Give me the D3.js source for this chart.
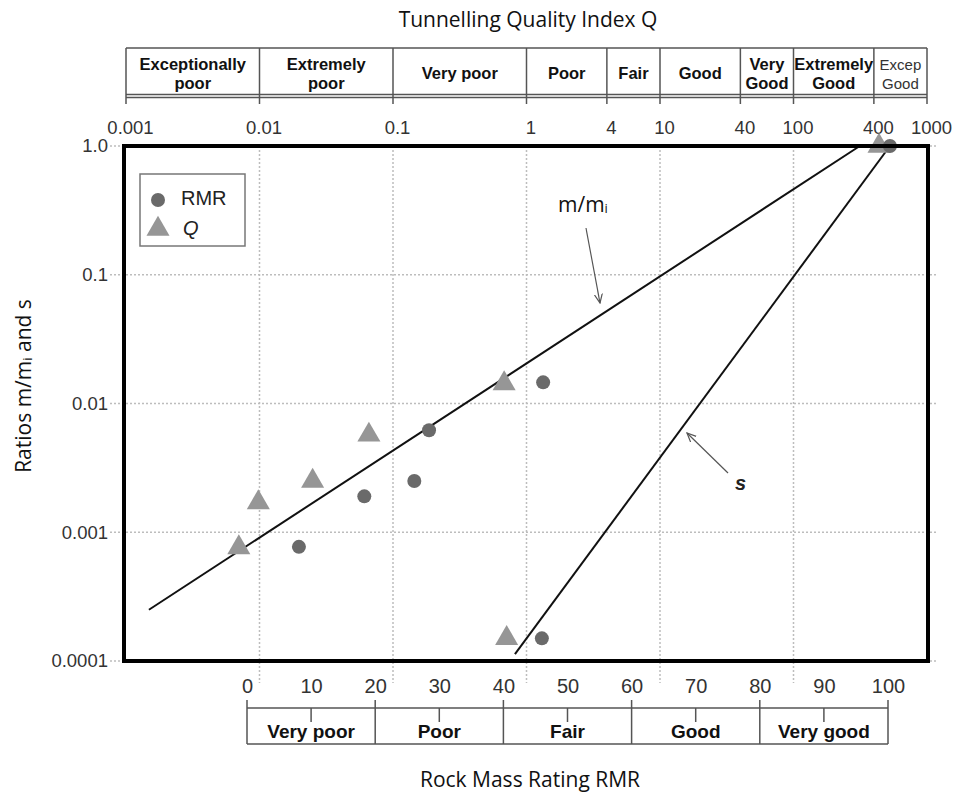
<!DOCTYPE html>
<html>
<head>
<meta charset="utf-8">
<script src="https://cdn.jsdelivr.net/npm/d3@7"></script>
<style>
body { margin: 0; background: #fff; }
svg text { font-family: "Liberation Sans", Arial, sans-serif; }
.ttl { font-family: "Open Sans", sans-serif; fill: #111; }
.grid { stroke: #bdbdbd; stroke-width: 1.5; stroke-dasharray: 2,2; fill: none; }
.box { stroke: #555; stroke-width: 1.5; fill: none; }
</style>
</head>
<body>
<svg id="chart" width="958" height="793"></svg>
<script>
// RMR series (x = RMR, y = ratio)
var rmrX = [8.1, 18.3, 26.1, 28.4, 46.2, 46.0, 100.3];
var rmrY = [0.00077, 0.0019, 0.0025, 0.0062, 0.0146, 0.00015, 1.0];
// Q series (x = Q, y = ratio)
var qX = [0.007, 0.0098, 0.025, 0.066, 0.68, 0.71, 437];
var qY = [0.00076, 0.0017, 0.0025, 0.0057, 0.0143, 0.00015, 1.0];
// fitted lines, [RMR, ratio]
var mLine = [[-15.3, 0.00025], [95.6, 1.0]];
var sLine = [[41.8, 0.000113], [100.3, 1.0]];

var yTicks = [1, 0.1, 0.01, 0.001, 0.0001];
var yTickLabels = ["1.0", "0.1", "0.01", "0.001", "0.0001"];
var qTicks = [0.001, 0.01, 0.1, 1, 4, 10, 40, 100, 400, 1000];
var qGrid = [0.01, 0.1, 1, 10, 100];
var qClasses = [["Exceptionally", "poor"], ["Extremely", "poor"], ["Very poor"], ["Poor"], ["Fair"],
                ["Good"], ["Very", "Good"], ["Extremely", "Good"], ["Excep", "Good"]];
var rmrTicks = [0, 10, 20, 30, 40, 50, 60, 70, 80, 90, 100];
var rmrBounds = [0, 20, 40, 60, 80, 100];
var rmrClasses = ["Very poor", "Poor", "Fair", "Good", "Very good"];

var pLeft = 124, pRight = 928, pTop = 146, pBottom = 661;
var svg = d3.select("#chart");

var y = d3.scaleLog().domain([0.0001, 1]).range([pBottom, pTop]);
var xR = d3.scaleLinear().domain([0, 100]).range([247, 888]);
var xQ = d3.scaleLog().domain([0.001, 1000]).range([126, 927]);

// arrow head
svg.append("defs").append("marker")
   .attr("id", "arr").attr("viewBox", "0 0 10 10")
   .attr("refX", 9).attr("refY", 5)
   .attr("markerWidth", 10).attr("markerHeight", 10)
   .attr("markerUnits", "userSpaceOnUse")
   .attr("orient", "auto")
   .append("path").attr("d", "M0,1 L9,5 L0,9")
   .attr("fill", "none").attr("stroke", "#555").attr("stroke-width", 1.2);

// grid
svg.selectAll(".hgrid").data(yTicks).enter().append("line")
   .attr("class", "grid")
   .attr("x1", 110).attr("x2", 937)
   .attr("y1", d => y(d)).attr("y2", d => y(d));
svg.selectAll(".vgrid").data(qGrid).enter().append("line")
   .attr("class", "grid")
   .attr("x1", d => xQ(d)).attr("x2", d => xQ(d))
   .attr("y1", pTop).attr("y2", 683);

// y axis labels
var ya = svg.append("g").attr("transform", "translate(110,0)")
   .call(d3.axisLeft(y).tickValues(yTicks).tickSize(0).tickPadding(2)
   .tickFormat((d, i) => yTickLabels[i]));
ya.select(".domain").remove();
ya.selectAll("text").attr("font-size", 18.5).attr("fill", "#333")
   .attr("font-family", "Liberation Sans, Arial, sans-serif");

// top header (Q)
var hTop = 48, hBot = 96;
svg.append("line").attr("class", "box").attr("x1", xQ(0.001)).attr("x2", xQ(1000)).attr("y1", hTop).attr("y2", hTop);
svg.append("line").attr("class", "box").attr("x1", xQ(0.001)).attr("x2", xQ(1000)).attr("y1", hBot - 1.5).attr("y2", hBot - 1.5);
svg.append("line").attr("class", "box").attr("x1", xQ(0.001)).attr("x2", xQ(1000)).attr("y1", hBot + 1.5).attr("y2", hBot + 1.5);
svg.selectAll(".qdiv").data(qTicks).enter().append("line")
   .attr("class", "box")
   .attr("x1", d => xQ(d)).attr("x2", d => xQ(d))
   .attr("y1", hTop).attr("y2", hBot + 8);

var qa = svg.append("g").attr("transform", "translate(4," + hBot + ")")
   .call(d3.axisBottom(xQ).tickValues(qTicks).tickSize(0).tickPadding(25)
   .tickFormat(d => String(d)));
qa.select(".domain").remove();
qa.selectAll("text").attr("font-size", 18.5).attr("fill", "#333")
   .attr("font-family", "Liberation Sans, Arial, sans-serif");

qClasses.forEach(function (lab, i) {
  var cx = (xQ(qTicks[i]) + xQ(qTicks[i + 1])) / 2;
  var last = i === qClasses.length - 1;
  var ys = lab.length === 1 ? [73] : [64, 83];
  lab.forEach(function (t, j) {
    svg.append("text")
       .attr("x", cx).attr("y", ys[j])
       .attr("text-anchor", "middle").attr("dominant-baseline", "central")
       .attr("font-size", last ? 15 : 16.5)
       .attr("font-weight", last ? "normal" : "bold")
       .attr("fill", last ? "#333" : "#111")
       .text(t);
  });
});

// bottom header (RMR)
var bTop = 708, bBot = 744;
svg.append("line").attr("class", "box").attr("x1", xR(0)).attr("x2", xR(100)).attr("y1", bTop).attr("y2", bTop);
svg.append("line").attr("class", "box").attr("x1", xR(0)).attr("x2", xR(100)).attr("y1", bBot).attr("y2", bBot);
svg.selectAll(".rdiv").data(rmrBounds).enter().append("line")
   .attr("class", "box")
   .attr("x1", d => xR(d)).attr("x2", d => xR(d))
   .attr("y1", bTop - 8).attr("y2", bBot);
svg.selectAll(".rmid").data(rmrTicks.filter(d => rmrBounds.indexOf(d) < 0)).enter().append("line")
   .attr("class", "box")
   .attr("x1", d => xR(d)).attr("x2", d => xR(d))
   .attr("y1", bTop).attr("y2", bTop + 14);

var ra = svg.append("g").attr("transform", "translate(0," + bTop + ")")
   .call(d3.axisTop(xR).tickValues(rmrTicks).tickSize(0).tickPadding(15));
ra.select(".domain").remove();
ra.selectAll("text").attr("font-size", 20).attr("fill", "#333")
   .attr("font-family", "Liberation Sans, Arial, sans-serif");

rmrClasses.forEach(function (t, i) {
  svg.append("text")
     .attr("x", (xR(rmrBounds[i]) + xR(rmrBounds[i + 1])) / 2).attr("y", 738)
     .attr("text-anchor", "middle")
     .attr("font-size", 19).attr("font-weight", "bold").attr("fill", "#111")
     .text(t);
});

// lines
var line = d3.line().x(d => xR(d[0])).y(d => y(d[1]));
[mLine, sLine].forEach(function (l) {
  svg.append("path").attr("d", line(l))
     .attr("fill", "none").attr("stroke", "#111").attr("stroke-width", 2);
});

// points
svg.selectAll(".qpt").data(qX).enter().append("path")
   .attr("d", d3.symbol().type(d3.symbolTriangle).size(230))
   .attr("transform", (d, i) => "translate(" + xQ(d) + "," + y(qY[i]) + ")")
   .attr("fill", "#969696");
svg.selectAll(".rpt").data(rmrX).enter().append("circle")
   .attr("cx", d => xR(d)).attr("cy", (d, i) => y(rmrY[i]))
   .attr("r", 7).attr("fill", "#6a6a6a");

// frame
svg.append("rect")
   .attr("x", pLeft).attr("y", pTop)
   .attr("width", pRight - pLeft).attr("height", pBottom - pTop)
   .attr("fill", "none").attr("stroke", "#000").attr("stroke-width", 4);

// legend
svg.append("rect").attr("x", 140).attr("y", 174).attr("width", 105).attr("height", 72)
   .attr("fill", "#fff").attr("stroke", "#777").attr("stroke-width", 1.5);
svg.append("circle").attr("cx", 158).attr("cy", 200).attr("r", 7).attr("fill", "#6a6a6a");
svg.append("path").attr("d", d3.symbol().type(d3.symbolTriangle).size(230))
   .attr("transform", "translate(158,229)").attr("fill", "#969696");
svg.append("text").attr("x", 181).attr("y", 198).attr("dominant-baseline", "central")
   .attr("font-size", 20).attr("fill", "#222").text("RMR");
svg.append("text").attr("x", 183).attr("y", 228).attr("dominant-baseline", "central")
   .attr("font-size", 20).attr("font-style", "italic").attr("fill", "#222").text("Q");

// annotations
var mt = svg.append("text").attr("class", "ttl").attr("x", 558).attr("y", 212).attr("font-size", 21);
mt.append("tspan").text("m/m");
mt.append("tspan").attr("font-size", 13).attr("dy", 1).text("i");
svg.append("line").attr("x1", 586).attr("y1", 228).attr("x2", 600).attr("y2", 303)
   .attr("stroke", "#555").attr("stroke-width", 1.2).attr("marker-end", "url(#arr)");
svg.append("text").attr("x", 735).attr("y", 490).attr("font-size", 20)
   .attr("font-weight", "bold").attr("font-style", "italic").attr("fill", "#222").text("s");
svg.append("line").attr("x1", 728).attr("y1", 473).attr("x2", 687).attr("y2", 433)
   .attr("stroke", "#555").attr("stroke-width", 1.2).attr("marker-end", "url(#arr)");

// titles
svg.append("text").attr("class", "ttl").attr("x", 528).attr("y", 27)
   .attr("text-anchor", "middle").attr("font-size", 21).text("Tunnelling Quality Index Q");
svg.append("text").attr("class", "ttl").attr("x", 530).attr("y", 787)
   .attr("text-anchor", "middle").attr("font-size", 21).text("Rock Mass Rating RMR");
var yt = svg.append("text").attr("class", "ttl")
   .attr("transform", "translate(31,386) rotate(-90)")
   .attr("text-anchor", "middle").attr("font-size", 21);
yt.append("tspan").text("Ratios m/m");
yt.append("tspan").attr("font-size", 13).attr("dy", 1).text("i");
yt.append("tspan").attr("dy", -1).text(" and s");
</script>
</body>
</html>
